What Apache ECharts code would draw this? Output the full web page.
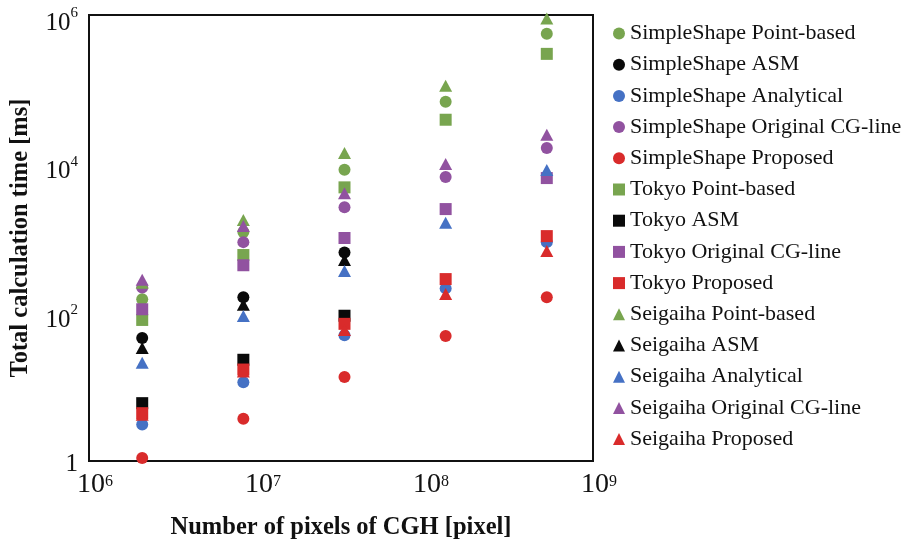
<!DOCTYPE html>
<html>
<head>
<meta charset="utf-8">
<script src="https://cdn.jsdelivr.net/npm/echarts@6/dist/echarts.min.js"></script>
<style>
  html, body { margin: 0; background: #fff; }
  #chart { width: 907px; height: 542px; }
</style>
</head>
<body>
<div id="chart"></div>
<script>
// number of pixels of the CGH (x axis)
const pixels = [2073600, 8294400, 33177600, 132710400, 530841600];

// total calculation time [ms], null = not measured
const simplePoint    = [150, 1200, 8300, 68000, 560000];
const simpleASM      = [45, 160, 640, null, null];
const simpleAnalytic = [3.1, 11.5, 49, 210, 880];
const simpleCGline   = [215, 880, 2600, 6600, 16300];
const simpleProposed = [1.1, 3.7, 13.5, 48, 160];

const tokyoPoint    = [79, 590, 4800, 39000, 300000];
const tokyoASM      = [6.0, 23, 90, null, null];
const tokyoCGline   = [110, 430, 1000, 2450, 6400];
const tokyoProposed = [4.4, 17, 70, 280, 1060];

const seigaihaPoint    = [250, 1750, 13900, 112000, 900000];
const seigaihaASM      = [33, 126, 505, null, null];
const seigaihaAnalytic = [21, 89, 360, 1600, 8200];
const seigaihaCGline   = [275, 1450, 4000, 9900, 24500];
const seigaihaProposed = [4.2, 16, 58, 176, 670];

const GREEN = '#78a54f', BLACK = '#0a0a0a', BLUE = '#4571c4', PURPLE = '#9152a0', RED = '#d92b2b';
const FONT = 'Liberation Serif';

function pts(vals) {
  const out = [];
  vals.forEach((v, i) => { if (v != null) out.push([pixels[i], v]); });
  return out;
}

function mk(name, vals, color, symbol) {
  return {
    name: name,
    type: 'scatter',
    symbol: symbol,
    symbolSize: symbol === 'triangle' ? [13, 12] : 12,
    itemStyle: { color: color, opacity: 1 },
    data: pts(vals)
  };
}

const series = [
  mk('SimpleShape Point-based', simplePoint, GREEN, 'circle'),
  mk('SimpleShape ASM', simpleASM, BLACK, 'circle'),
  mk('SimpleShape Analytical', simpleAnalytic, BLUE, 'circle'),
  mk('SimpleShape Original CG-line', simpleCGline, PURPLE, 'circle'),
  mk('SimpleShape Proposed', simpleProposed, RED, 'circle'),
  mk('Tokyo Point-based', tokyoPoint, GREEN, 'rect'),
  mk('Tokyo ASM', tokyoASM, BLACK, 'rect'),
  mk('Tokyo Original CG-line', tokyoCGline, PURPLE, 'rect'),
  mk('Tokyo Proposed', tokyoProposed, RED, 'rect'),
  mk('Seigaiha Point-based', seigaihaPoint, GREEN, 'triangle'),
  mk('Seigaiha ASM', seigaihaASM, BLACK, 'triangle'),
  mk('Seigaiha Analytical', seigaihaAnalytic, BLUE, 'triangle'),
  mk('Seigaiha Original CG-line', seigaihaCGline, PURPLE, 'triangle'),
  mk('Seigaiha Proposed', seigaihaProposed, RED, 'triangle')
];

let chart = echarts.init(document.getElementById('chart'));
let option = {
  backgroundColor: '#fff',
  animation: false,
  textStyle: { fontFamily: FONT },
  grid: {
    left: 89, right: 314, top: 15, bottom: 81,
    outerBoundsMode: 'none',
    show: true, borderColor: '#111', borderWidth: 2
  },
  legend: {
    orient: 'vertical',
    left: 608, top: 16,
    itemWidth: 12, itemHeight: 12,
    itemGap: 6.2,
    textStyle: { fontFamily: FONT, fontSize: 22, color: '#111', lineHeight: 25 }
  },
  xAxis: {
    type: 'log', logBase: 10,
    min: 1e6, max: 1e9,
    name: 'Number of pixels of CGH [pixel]',
    nameLocation: 'middle', nameGap: 54,
    nameTextStyle: { fontFamily: FONT, fontSize: 24.5, fontWeight: 'bold', color: '#111' },
    axisLine: { show: false },
    axisTick: { show: false },
    splitLine: { show: false },
    axisLabel: {
      margin: 10,
      padding: [0, 0, 0, 12],
      formatter: v => '{b|10}{s|' + Math.round(Math.log10(v)) + '}',
      rich: {
        b: { fontFamily: FONT, fontSize: 28, color: '#111', verticalAlign: 'top', lineHeight: 30 },
        s: { fontFamily: FONT, fontSize: 16, color: '#111', verticalAlign: 'top', lineHeight: 30, padding: [3, 0, 0, 0] }
      }
    }
  },
  yAxis: {
    type: 'log', logBase: 10,
    min: 1, max: 1e6,
    name: 'Total calculation time [ms]',
    nameLocation: 'middle', nameGap: 56,
    nameTextStyle: { fontFamily: FONT, fontSize: 24.5, fontWeight: 'bold', color: '#111' },
    axisLine: { show: false },
    axisTick: { show: false },
    splitLine: { show: false },
    axisLabel: {
      margin: 11,
      padding: [11, 0, 0, 0],
      formatter: v => {
        const e = Math.round(Math.log10(v));
        if (e % 2) return '';
        if (e === 0) return '{one|1}';
        return '{b|10}{s|' + e + '}';
      },
      rich: {
        one: { fontFamily: FONT, fontSize: 25, color: '#111', verticalAlign: 'top', lineHeight: 30 },
        b: { fontFamily: FONT, fontSize: 25, color: '#111', verticalAlign: 'bottom', lineHeight: 30 },
        s: { fontFamily: FONT, fontSize: 15, color: '#111', verticalAlign: 'top', lineHeight: 30 }
      }
    }
  },
  series: series
};
chart.setOption(option);
</script>
</body>
</html>
